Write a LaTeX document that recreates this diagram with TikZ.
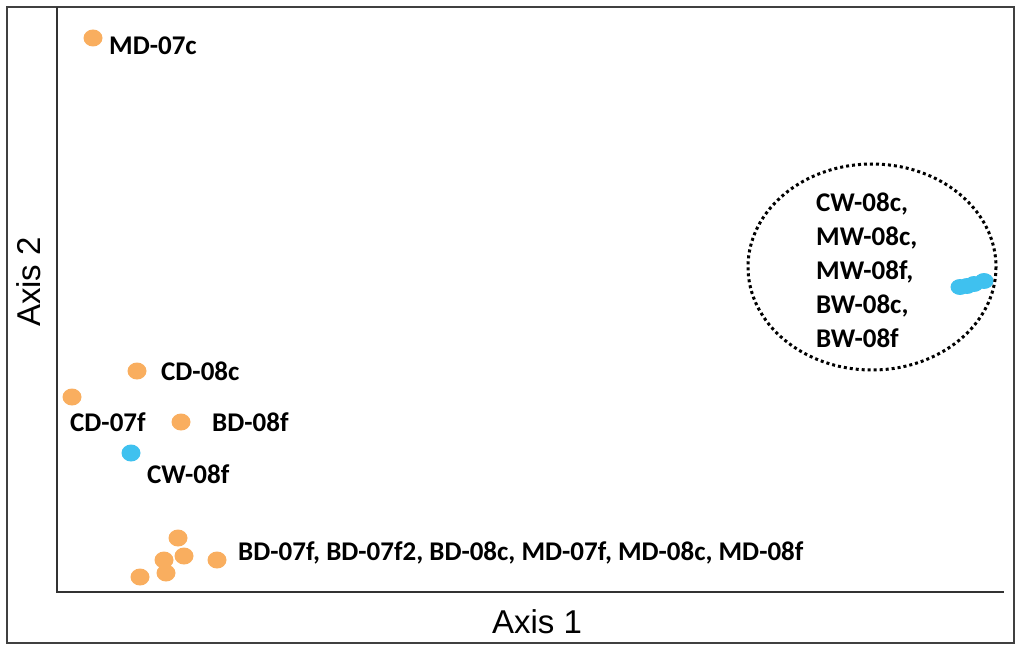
\documentclass[tikz,border=0pt]{standalone}
\usepackage{fontspec}
\setmainfont{Carlito}
\newfontfamily\axisfont{Liberation Sans}
\usetikzlibrary{positioning}
\definecolor{dryorange}{HTML}{F9AE5F}
\definecolor{wetblue}{HTML}{3FC1EF}
\tikzset{
  dry/.style={fill=dryorange, draw=none},
  wet/.style={fill=wetblue, draw=none},
  site/.style={font=\bfseries\fontsize{27}{34}\selectfont, inner sep=0pt, anchor=west},
  axislabel/.style={font=\axisfont\fontsize{33}{36}\selectfont}
}
\begin{document}
\begin{tikzpicture}[x=1pt, y=-1pt]
  \useasboundingbox (0,0) rectangle (1024,652);
  % frame and axes
  \draw[line width=1.2pt, draw=black!75] (7,7) rectangle (1014,643);
  \coordinate (origin) at (57,592);
  \coordinate (ytop) at (57,7);
  \coordinate (xend) at (1004,592);
  \draw[line width=1.3pt, draw=black!80] (ytop) -- (origin) -- (xend);
  \node[axislabel] (xlab) at (537,622) {Axis 1};
  \node[axislabel, rotate=90] (ylab) at (29,282) {Axis 2};

  % dry samples
  \foreach \px/\py in {93/38, 137/371, 72/397, 181/422, 178/538, 164/560,
                       184/556, 217/560, 140/577, 166/573}
    \fill[dry] (\px,\py) ellipse (9.5 and 8.5);
  % wet samples
  \fill[wet] (131,453) ellipse (9.5 and 8.5);
  \foreach \px/\py in {960/287, 967/286, 974/284, 984/281}
    \fill[wet] (\px,\py) ellipse (9.5 and 8);

  % labels
  \node[site] (md07c) at (109,46) {MD-07c};
  \node[site] (cd08c) at (161,371) {CD-08c};
  \node[site] (cd07f) at (70,422) {CD-07f};
  \node[site] (bd08f) at (212,422) {BD-08f};
  \node[site] (cw08f) at (147,474) {CW-08f};
  \node[site] (bottom) at (238,553) {BD-07f, BD-07f2, BD-08c, MD-07f, MD-08c, MD-08f};

  % wet cluster
  \draw[line width=3pt, dash pattern=on 3pt off 3pt] (872,267) ellipse (124 and 103);
  \node[site, align=left] (wetgroup) at (816,270)
    {CW-08c,\\MW-08c,\\MW-08f,\\BW-08c,\\BW-08f};
\end{tikzpicture}
\end{document}
